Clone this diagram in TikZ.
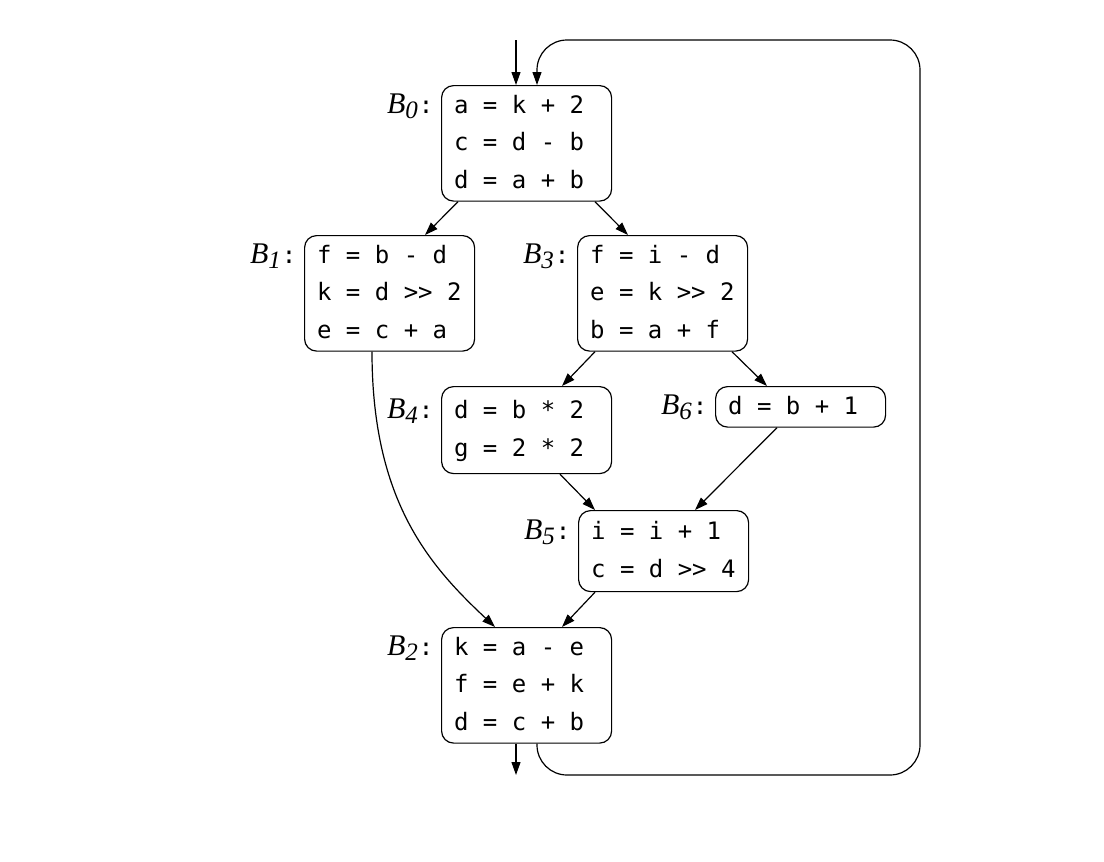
\documentclass[tikz,border=0pt]{standalone}
\usepackage{fontspec}
\usetikzlibrary{arrows.meta,calc}
\newfontfamily\codefont{DejaVu Sans Mono}
\newfontfamily\namefont{Liberation Serif}
\newcommand{\bname}[1]{{\namefont\itshape\fontsize{30}{30}\selectfont B\raisebox{-5pt}{\fontsize{25}{25}\selectfont #1}}\kern1pt{\codefont\fontsize{24}{24}\selectfont:}}

\begin{document}
\begin{tikzpicture}[x=1pt,y=-1pt,line width=1.2pt,
  blk/.style={draw, rounded corners=12pt, anchor=north west, text width=145pt,
    inner xsep=12.5pt, inner ysep=1.5pt, align=left,
    font=\codefont\fontsize{24}{37.5}\selectfont,
    execute at begin node={\spaceskip=0pt\xspaceskip=0pt}},
  lab/.style={anchor=base east, inner sep=0pt},
  arr/.style={-{Stealth[length=13pt,width=9pt,inset=0pt]}}]
\useasboundingbox (0,0) rectangle (1104,862);

\node[blk] (b0) at (441,85) {\strut a = k + 2\\\strut c = d - b\\\strut d = a + b};
\node[blk] (b1) at (304,235) {\strut f = b - d\\\strut k = d >> 2\\\strut e = c + a};
\node[blk] (b3) at (577,235) {\strut f = i - d\\\strut e = k >> 2\\\strut b = a + f};
\node[blk, minimum height=87pt] (b4) at (441,386) {\strut d = b * 2\\\strut g = 2 * 2};
\node[blk] (b6) at (715,386) {\strut d = b + 1};
\node[blk, minimum height=81pt] (b5) at (578,510) {\strut i = i + 1\\\strut c = d >> 4};
\node[blk] (b2) at (441,627) {\strut k = a - e\\\strut f = e + k\\\strut d = c + b};

\node[lab] (l0) at ($(b0.north west)+(-7,28)$) {\bname{0}};
\node[lab] (l1) at ($(b1.north west)+(-7,28)$) {\bname{1}};
\node[lab] (l3) at ($(b3.north west)+(-7,28)$) {\bname{3}};
\node[lab] (l4) at ($(b4.north west)+(-7,32)$) {\bname{4}};
\node[lab] (l6) at ($(b6.north west)+(-7,28)$) {\bname{6}};
\node[lab] (l5) at ($(b5.north west)+(-7,29.5)$) {\bname{5}};
\node[lab] (l2) at ($(b2.north west)+(-7,28)$) {\bname{2}};

\coordinate (in) at (516,40);
\coordinate (out) at (516,775);
\coordinate (back) at (920,775);
\coordinate (top) at ($(b0.north west)+(96,-45)$);

\draw[arr] (in) -- (in |- b0.north);
\draw[arr] ($(b2.south west)+(75,0)$) -- (out);
\draw[arr, rounded corners=30pt] ($(b2.south west)+(96,0)$) |- (back) |- (top) -- ($(b0.north west)+(96,0)$);

\draw[arr] ($(b0.south west)+(17,0)$) -- ($(b1.north west)+(121,0)$);
\draw[arr] ($(b0.south west)+(154,0)$) -- ($(b3.north west)+(51,0)$);
\draw[arr] ($(b3.south west)+(18,0)$) -- ($(b4.north west)+(121,0)$);
\draw[arr] ($(b3.south west)+(155,0)$) -- ($(b6.north west)+(52,0)$);
\draw[arr] ($(b4.south west)+(119,0)$) -- ($(b5.north west)+(17,0)$);
\draw[arr] ($(b6.south west)+(62,0)$) -- ($(b5.north west)+(117,0)$);
\draw[arr] ($(b5.south west)+(17,0)$) -- ($(b2.north west)+(121,0)$);
\draw[arr] ($(b1.south west)+(68,0)$) .. controls +(0,150) and +(-65,-61) .. ($(b2.north west)+(54,0)$);

\end{tikzpicture}
\end{document}
